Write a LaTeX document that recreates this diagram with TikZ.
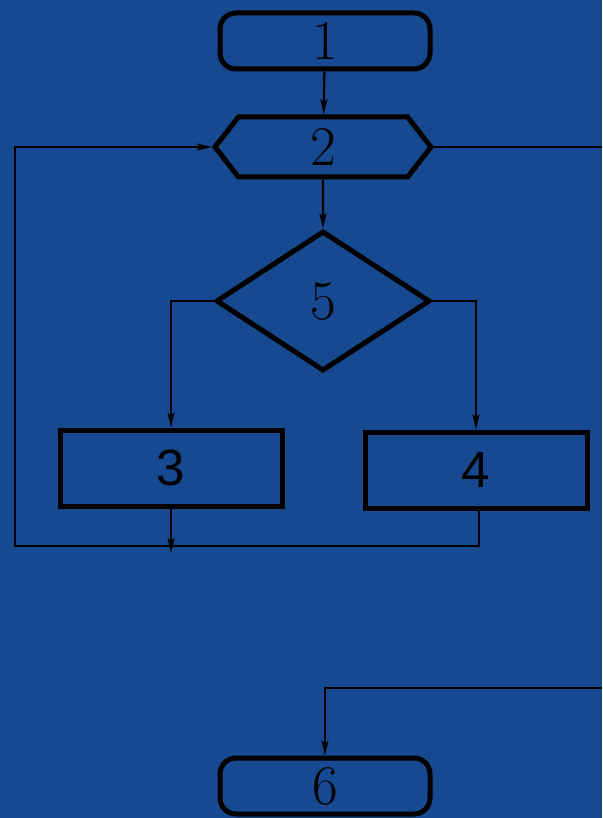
\documentclass[tikz,border=0pt]{standalone}
\usepackage{fontspec}
\newfontfamily\sansdig{Liberation Sans}
\usetikzlibrary{arrows.meta,shapes.geometric,shapes.symbols}
\definecolor{bgblue}{RGB}{22,73,143}
\begin{document}
\begin{tikzpicture}[x=1pt,y=-1pt,
  box/.style={draw=black,line width=5pt,inner sep=0pt,font=\fontsize{56}{56}\selectfont},
  rbox/.style={box,rounded corners=16pt,minimum width=210pt,minimum height=56pt},
  pbox/.style={box,minimum width=222pt,minimum height=76pt,font=\sansdig\fontsize{51}{51}\selectfont},
  conn/.style={draw=black,line width=2.3pt},
  arr/.style={conn,-{Stealth[length=15pt,width=7pt,inset=3pt]}}]
\fill[bgblue] (0,0) rectangle (602,818);
\useasboundingbox (0,0) rectangle (602,818);
\node[rbox] (n1) at (325,41) {1};
\node[box,shape=signal,signal to=west and east,signal pointer angle=104,
      minimum width=216pt,minimum height=60pt] (n2) at (323,147) {2};
\node[box,shape=diamond,aspect=1.52,minimum width=214pt,minimum height=140pt] (n5) at (323,301) {5};
\node[pbox] (n3) at (171,468) {3};
\node[pbox] (n4) at (476,470) {4};
\node[rbox] (n6) at (325,786) {6};
\coordinate (lt) at (15,147);
\coordinate (lb) at (15,546);
\coordinate (rb) at (479,546);
\coordinate (tip3) at (171,553);
\coordinate (re) at (602,147);
\coordinate (re2) at (602,688);
\coordinate (d6) at (325,688);
\draw[arr] (n1) -- (n2);
\draw[arr] (n2) -- (n5);
\draw[arr] (n5.west) -| (n3.north);
\draw[arr] (n5.east) -| (n4.north);
\draw[arr] (n3.south) -- (tip3);
\draw[arr] (n4.south -| rb) -- (rb) -- (lb) -- (lt) -- (n2.west);
\draw[conn] (n2.east) -- (re);
\draw[arr] (re2) -- (d6) -- (n6.north);
\end{tikzpicture}
\end{document}
